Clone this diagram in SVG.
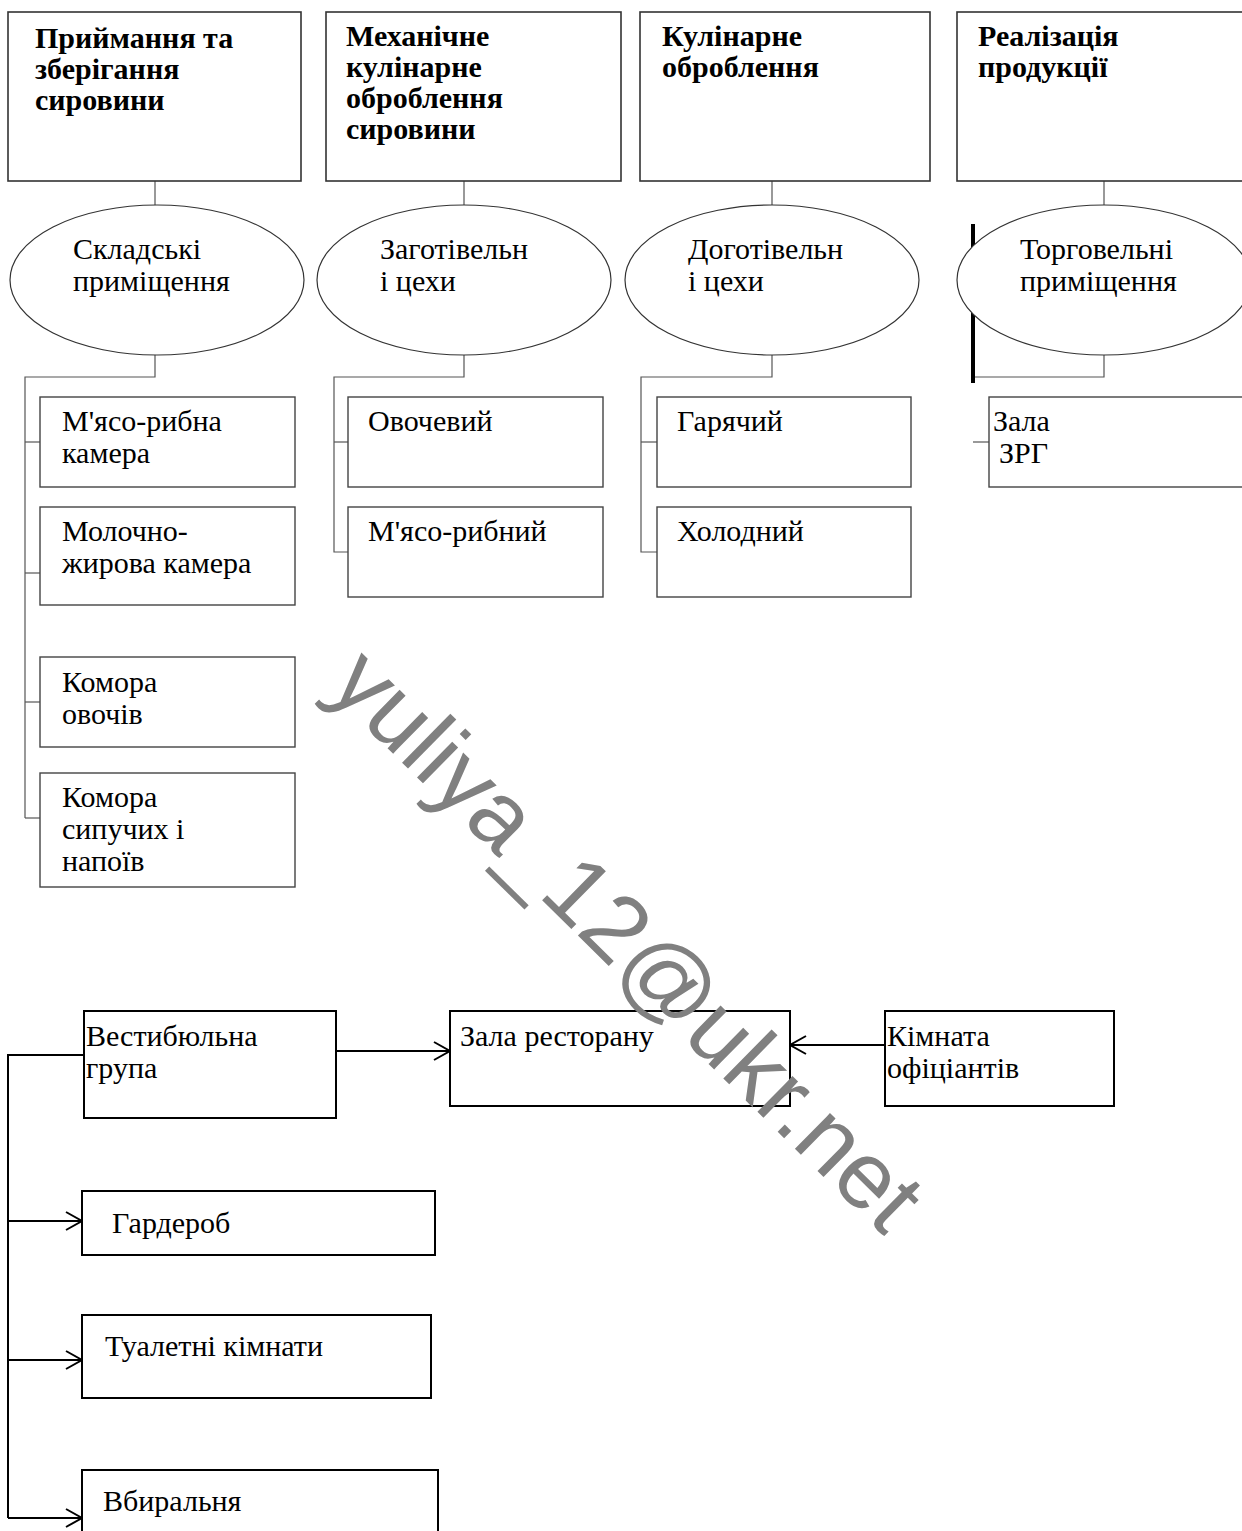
<svg xmlns="http://www.w3.org/2000/svg" width="1242" height="1531" viewBox="0 0 1242 1531">
<style>
.hb{fill:#fff;stroke:#333;stroke-width:1.6}
.sb{fill:#fff;stroke:#444;stroke-width:1.4}
.bb{fill:#fff;stroke:#000;stroke-width:2}
.el{fill:#fff;stroke:#333;stroke-width:1.2}
.ln{fill:none;stroke:#555;stroke-width:1.2}
.ar{fill:none;stroke:#000;stroke-width:2}
.h{font-family:"Liberation Serif","Times New Roman",serif;font-weight:bold;font-size:30px;fill:#000}
.t{font-family:"Liberation Serif","Times New Roman",serif;font-size:30px;fill:#000}
.wm{font-family:"Liberation Sans",Arial,sans-serif;font-size:95px;fill:#808080}
</style>
<defs>
<marker id="arr" markerWidth="20" markerHeight="20" refX="17" refY="10" orient="auto" markerUnits="userSpaceOnUse">
<path d="M1,1 L17,10 L1,19" fill="none" stroke="#000" stroke-width="2"/>
</marker>
</defs>
<rect width="1242" height="1531" fill="#fff"/>

<g id="connectors">
<line class="ln" x1="155" y1="181" x2="155" y2="205"/>
<line class="ln" x1="464" y1="181" x2="464" y2="205"/>
<line class="ln" x1="772" y1="181" x2="772" y2="205"/>
<line class="ln" x1="1104" y1="181" x2="1104" y2="205"/>
<polyline class="ln" points="155,355 155,377 25,377 25,818"/>
<line class="ln" x1="25" y1="442" x2="40" y2="442"/>
<line class="ln" x1="25" y1="573" x2="40" y2="573"/>
<line class="ln" x1="25" y1="702" x2="40" y2="702"/>
<line class="ln" x1="25" y1="818" x2="40" y2="818"/>
<polyline class="ln" points="464,355 464,377 334,377 334,552 348,552"/>
<line class="ln" x1="334" y1="442" x2="348" y2="442"/>
<polyline class="ln" points="772,355 772,377 641,377 641,552 657,552"/>
<line class="ln" x1="641" y1="442" x2="657" y2="442"/>
<polyline class="ln" points="1104,355 1104,377 973,377"/>
<line x1="973" y1="224" x2="973" y2="383" stroke="#000" stroke-width="4"/>
<line class="ln" x1="973" y1="442" x2="989" y2="442"/>
<line class="ar" x1="336" y1="1051" x2="450" y2="1051" marker-end="url(#arr)"/>
<line class="ar" x1="885" y1="1045" x2="790" y2="1045" marker-end="url(#arr)"/>
<polyline class="ar" points="84,1055 8,1055 8,1518"/>
<line class="ar" x1="8" y1="1221" x2="82" y2="1221" marker-end="url(#arr)"/>
<line class="ar" x1="8" y1="1360" x2="82" y2="1360" marker-end="url(#arr)"/>
<line class="ar" x1="8" y1="1518" x2="82" y2="1518" marker-end="url(#arr)"/>
</g>

<g id="h1"><rect class="hb" x="8" y="12" width="293" height="169"/>
<text class="h"><tspan x="35" y="48">Приймання та</tspan><tspan x="35" y="79">зберігання</tspan><tspan x="35" y="110">сировини</tspan></text></g>
<g id="h2"><rect class="hb" x="326" y="12" width="295" height="169"/>
<text class="h"><tspan x="346" y="46">Механічне</tspan><tspan x="346" y="77">кулінарне</tspan><tspan x="346" y="108">оброблення</tspan><tspan x="346" y="139">сировини</tspan></text></g>
<g id="h3"><rect class="hb" x="640" y="12" width="290" height="169"/>
<text class="h"><tspan x="662" y="46">Кулінарне</tspan><tspan x="662" y="77">оброблення</tspan></text></g>
<g id="h4"><rect class="hb" x="957" y="12" width="300" height="169"/>
<text class="h"><tspan x="978" y="46">Реалізація</tspan><tspan x="978" y="77">продукції</tspan></text></g>

<g id="e1"><ellipse class="el" cx="157" cy="280" rx="147" ry="75"/>
<text class="t"><tspan x="73" y="259">Складські</tspan><tspan x="73" y="291">приміщення</tspan></text></g>
<g id="e2"><ellipse class="el" cx="464" cy="280" rx="147" ry="75"/>
<text class="t"><tspan x="380" y="259">Заготівельн</tspan><tspan x="380" y="291">і цехи</tspan></text></g>
<g id="e3"><ellipse class="el" cx="772" cy="280" rx="147" ry="75"/>
<text class="t"><tspan x="688" y="259">Доготівельн</tspan><tspan x="688" y="291">і цехи</tspan></text></g>
<g id="e4"><ellipse class="el" cx="1104" cy="280" rx="147" ry="75"/>
<text class="t"><tspan x="1020" y="259">Торговельні</tspan><tspan x="1020" y="291">приміщення</tspan></text></g>

<g id="s1a"><rect class="sb" x="40" y="397" width="255" height="90"/>
<text class="t"><tspan x="62" y="431">М'ясо-рибна</tspan><tspan x="62" y="463">камера</tspan></text></g>
<g id="s1b"><rect class="sb" x="40" y="507" width="255" height="98"/>
<text class="t"><tspan x="62" y="541">Молочно-</tspan><tspan x="62" y="573">жирова камера</tspan></text></g>
<g id="s1c"><rect class="sb" x="40" y="657" width="255" height="90"/>
<text class="t"><tspan x="62" y="692">Комора</tspan><tspan x="62" y="724">овочів</tspan></text></g>
<g id="s1d"><rect class="sb" x="40" y="773" width="255" height="114"/>
<text class="t"><tspan x="62" y="807">Комора</tspan><tspan x="62" y="839">сипучих і</tspan><tspan x="62" y="871">напоїв</tspan></text></g>
<g id="s2a"><rect class="sb" x="348" y="397" width="255" height="90"/>
<text class="t" x="368" y="431">Овочевий</text></g>
<g id="s2b"><rect class="sb" x="348" y="507" width="255" height="90"/>
<text class="t" x="368" y="541">М'ясо-рибний</text></g>
<g id="s3a"><rect class="sb" x="657" y="397" width="254" height="90"/>
<text class="t" x="677" y="431">Гарячий</text></g>
<g id="s3b"><rect class="sb" x="657" y="507" width="254" height="90"/>
<text class="t" x="677" y="541">Холодний</text></g>
<g id="s4a"><rect class="sb" x="989" y="397" width="270" height="90"/>
<text class="t"><tspan x="993" y="431">Зала</tspan><tspan x="999" y="463">ЗРГ</tspan></text></g>

<g id="b1"><rect class="bb" x="84" y="1011" width="252" height="107"/>
<text class="t"><tspan x="86" y="1046">Вестибюльна</tspan><tspan x="86" y="1078">група</tspan></text></g>
<g id="b2"><rect class="bb" x="450" y="1011" width="340" height="95"/>
<text class="t" x="460" y="1046">Зала ресторану</text></g>
<g id="b3"><rect class="bb" x="885" y="1011" width="229" height="95"/>
<text class="t"><tspan x="887" y="1046">Кімната</tspan><tspan x="887" y="1078">офіціантів</tspan></text></g>
<g id="b4"><rect class="bb" x="82" y="1191" width="353" height="64"/>
<text class="t" x="112" y="1233">Гардероб</text></g>
<g id="b5"><rect class="bb" x="82" y="1315" width="349" height="83"/>
<text class="t" x="105" y="1356">Туалетні кімнати</text></g>
<g id="b6"><rect class="bb" x="82" y="1470" width="356" height="80"/>
<text class="t" x="103" y="1511">Вбиральня</text></g>

<text class="wm" transform="translate(326,688) rotate(44.5)">yuliya_12@ukr.net</text>
</svg>
